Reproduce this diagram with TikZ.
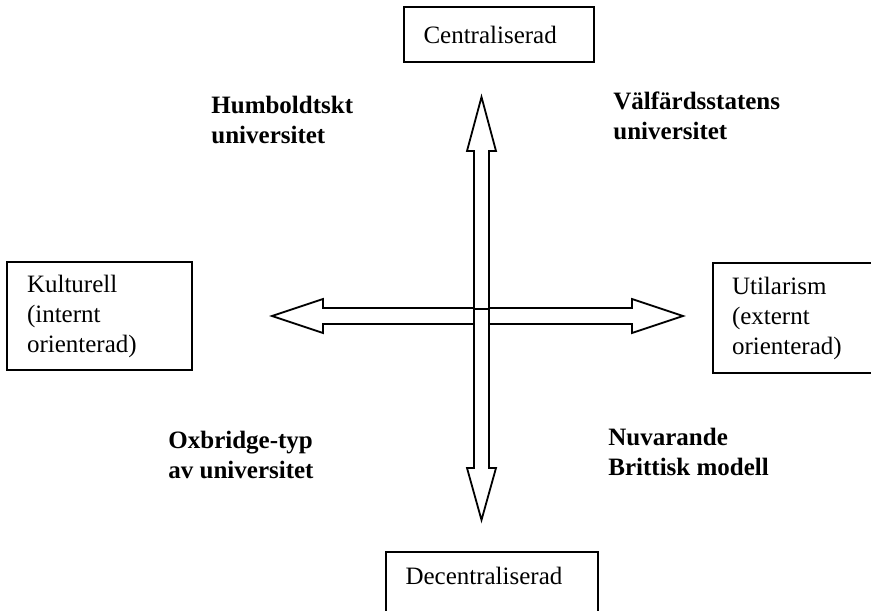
\documentclass[tikz,border=0pt]{standalone}
\usepackage{fontspec}
\setmainfont{Liberation Serif}
\usetikzlibrary{positioning}
\tikzset{
  pole/.style={rectangle, draw, line width=1pt, align=left, inner xsep=10pt,
    font=\fontsize{12.5}{15}\selectfont},
  quad/.style={inner sep=0pt, align=left, anchor=west,
    font=\fontsize{12.5}{15}\selectfont\bfseries},
  blockarrow/.style={draw, line width=0.9pt, fill=white, line join=miter}
}

\begin{document}
\begin{tikzpicture}[x=0.5pt, y=-0.5pt]
  \useasboundingbox (0,0) rectangle (871,610);
  % the two axes
  \draw[blockarrow] (272,316) -- (323,299) -- (323,308) -- (632,308) -- (632,299)
    -- (683,316) -- (632,333) -- (632,324) -- (323,324) -- (323,333) -- cycle;
  \draw[blockarrow] (481.5,97) -- (496,151) -- (489,151) -- (489,468) -- (496,468)
    -- (481.5,520) -- (467,468) -- (474,468) -- (474,151) -- (467,151) -- cycle;
  \draw[line width=0.9pt] (474,309) -- (489,309);
  % poles
  \node[pole, text width=75pt, minimum height=27.5pt] (cen) at (498.5,34.5) {Centraliserad};
  \node[pole, text width=86pt, minimum height=31.5pt, text depth=8pt] (dec) at (491.5,583.5) {Decentraliserad};
  \node[pole, text width=72.5pt, minimum height=54pt] (kul) at (99.5,316) {Kulturell\\(internt\\orienterad)};
  \node[pole, text width=61pt, minimum height=55pt, inner xsep=9.5pt] (uti) at (793,318) {Utilarism\\(externt\\orienterad)};
  % quadrants
  \node[quad] (hum) at (211,120) {Humboldtskt\\universitet};
  \node[quad] (val) at (613,116) {Välfärdsstatens\\universitet};
  \node[quad] (oxb) at (168,455) {Oxbridge-typ\\av universitet};
  \node[quad] (nuv) at (608,452) {Nuvarande\\Brittisk modell};
\end{tikzpicture}
\end{document}
